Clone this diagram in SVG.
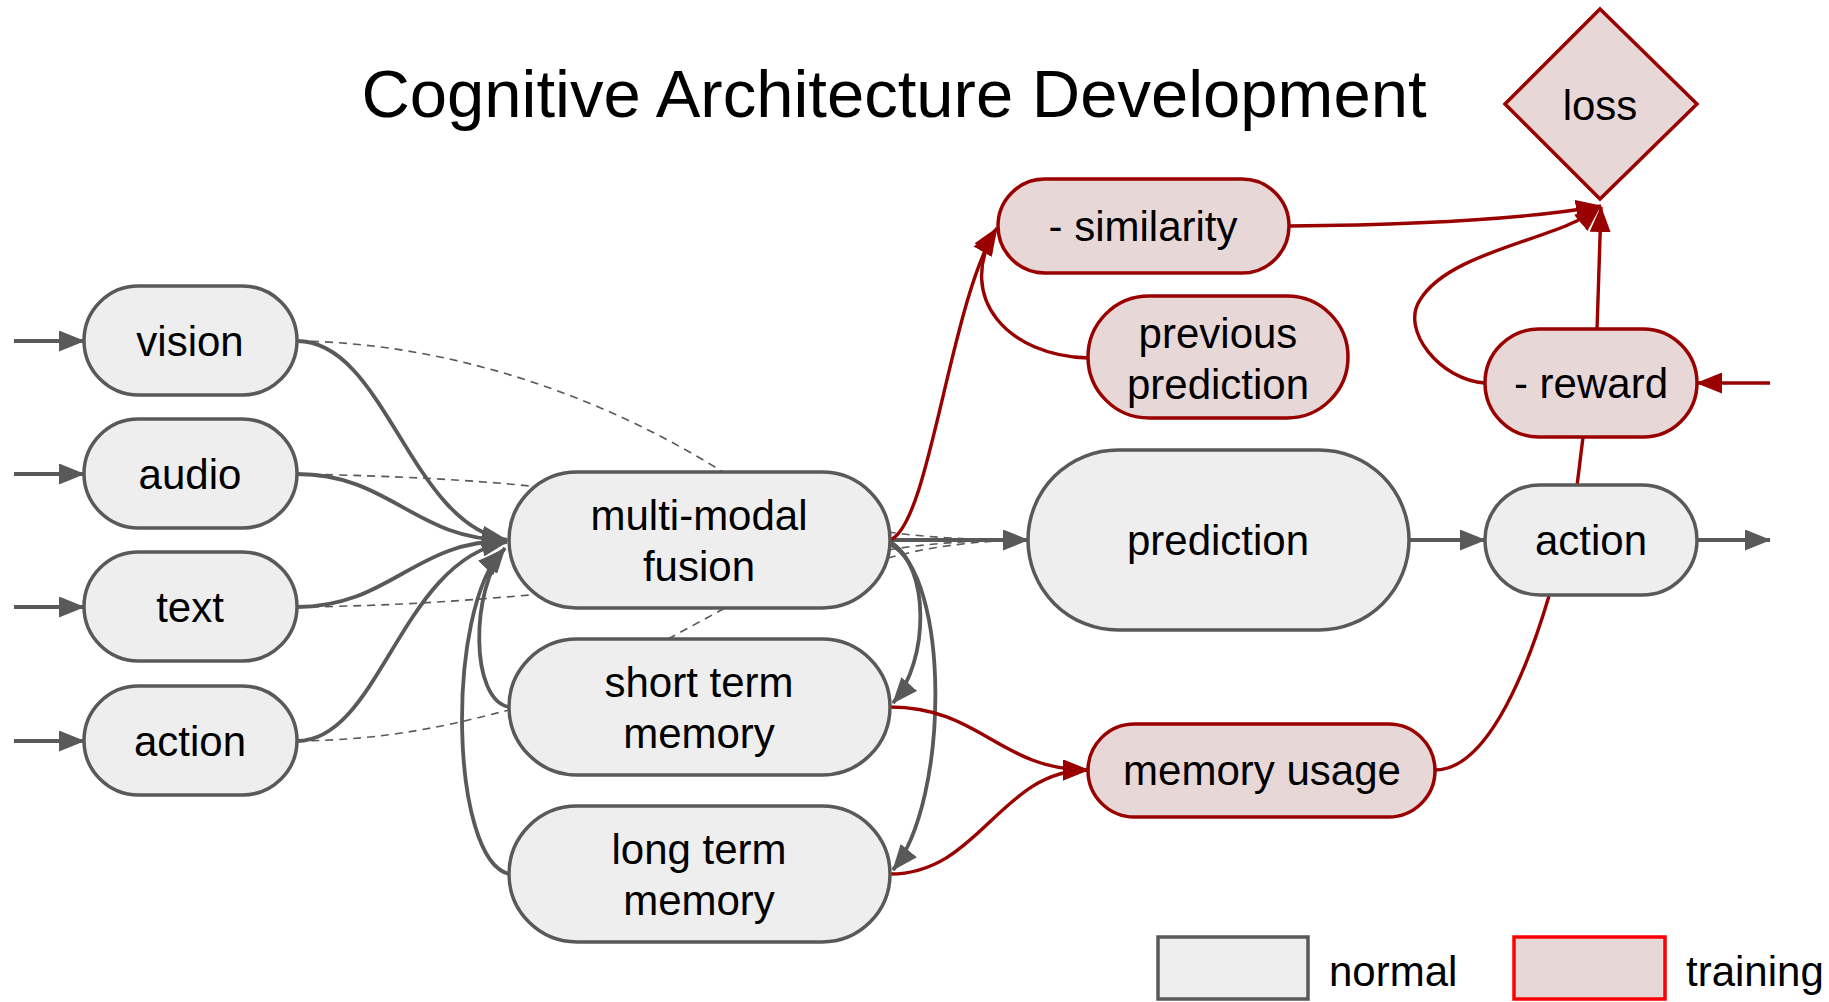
<svg xmlns="http://www.w3.org/2000/svg" width="1829" height="1002" viewBox="0 0 1829 1002">
<style>
text{font-family:"Liberation Sans",Arial,sans-serif;font-size:42px;fill:#000;text-anchor:middle}
.n{fill:#eeeeee;stroke:#595959;stroke-width:3.5}
.t{fill:#e8d7d7;stroke:#990000;stroke-width:3.5}
.g{fill:none;stroke:#595959;stroke-width:3.8}
.gd{fill:none;stroke:#595959;stroke-width:1.6;stroke-dasharray:8 6}
.r{fill:none;stroke:#990000;stroke-width:3.4}
</style>
<defs>
<marker id="ag" markerUnits="userSpaceOnUse" markerWidth="26" markerHeight="21" viewBox="0 0 26 21" refX="25" refY="10.5" orient="auto"><path d="M0,0 L26,10.5 L0,21 z" fill="#595959"/></marker>
<marker id="ar" markerUnits="userSpaceOnUse" markerWidth="26" markerHeight="21" viewBox="0 0 26 21" refX="25" refY="10.5" orient="auto"><path d="M0,0 L26,10.5 L0,21 z" fill="#990000"/></marker>
</defs>
<rect width="1829" height="1002" fill="#fff"/>
<text x="894" y="117" style="font-size:67px">Cognitive Architecture Development</text>

<g id="connectors">
<path class="g" d="M14,341 L84,341" marker-end="url(#ag)"/>
<path class="g" d="M14,474 L84,474" marker-end="url(#ag)"/>
<path class="g" d="M14,607 L84,607" marker-end="url(#ag)"/>
<path class="g" d="M14,741 L84,741" marker-end="url(#ag)"/>
<path class="gd" d="M297,341 C450,343 600,395 723,472"/>
<path class="gd" d="M297,474 C400,476 470,480 530,486"/>
<path class="gd" d="M297,607 C400,606 470,600 530,595"/>
<path class="gd" d="M297,741 C390,740 450,725 509,710"/>
<path class="gd" d="M668,639 L725,608"/>
<path class="gd" d="M888,532 C930,538 980,540 1020,540"/>
<path class="gd" d="M888,550 C930,543 980,540 1020,540"/>
<path class="gd" d="M888,558 C930,546 980,541 1020,540"/>
<path class="g" d="M297,341 C385,341 410,525 507,540" marker-end="url(#ag)"/>
<path class="g" d="M297,474 C390,474 415,540 507,540" marker-end="url(#ag)"/>
<path class="g" d="M297,607 C390,607 415,540 507,541" marker-end="url(#ag)"/>
<path class="g" d="M297,741 C380,741 400,560 507,542" marker-end="url(#ag)"/>
<path class="g" d="M509,707 C470,700 470,590 505,548" marker-end="url(#ag)"/>
<path class="g" d="M509,874 C450,860 445,610 503,550" marker-end="url(#ag)"/>
<path class="g" d="M890,540 L1028,540" marker-end="url(#ag)"/>
<path class="g" d="M890,542 C930,565 930,660 893,703" marker-end="url(#ag)"/>
<path class="g" d="M890,544 C950,575 950,800 893,870" marker-end="url(#ag)"/>
<path class="g" d="M1409,540 L1485,540" marker-end="url(#ag)"/>
<path class="g" d="M1697,540 L1770,540" marker-end="url(#ag)"/>
<path class="r" d="M890,540 C930,525 950,300 997,228" marker-end="url(#ar)"/>
<path class="r" d="M1088,358 C1010,356 955,300 995,230" marker-end="url(#ar)"/>
<path class="r" d="M1289,226 C1410,225 1520,220 1601,206" marker-end="url(#ar)"/>
<path class="r" d="M1485,383 C1440,380 1400,330 1420,300 C1450,250 1560,240 1600,207" marker-end="url(#ar)"/>
<path class="r" d="M1597,330 L1601,207" marker-end="url(#ar)"/>
<path class="r" d="M1577,486 L1583,437"/>
<path class="r" d="M1435,770 C1490,770 1530,660 1549,596"/>
<path class="r" d="M890,707 C980,707 1000,770 1088,770" marker-end="url(#ar)"/>
<path class="r" d="M890,874 C980,874 1000,770 1088,770" marker-end="url(#ar)"/>
<path class="r" d="M1770,383 L1697,383" marker-end="url(#ar)"/>
</g>

<g id="vision"><rect class="n" x="84" y="286" width="213" height="109" rx="54.5"/><text x="190" y="356">vision</text></g>
<g id="audio"><rect class="n" x="84" y="419" width="213" height="109" rx="54.5"/><text x="190" y="489">audio</text></g>
<g id="text"><rect class="n" x="84" y="552" width="213" height="109" rx="54.5"/><text x="190" y="622">text</text></g>
<g id="action-in"><rect class="n" x="84" y="686" width="213" height="109" rx="54.5"/><text x="190" y="756">action</text></g>

<g id="fusion"><rect class="n" x="509" y="472" width="381" height="136" rx="68"/><text x="699" y="530">multi-modal</text><text x="699" y="581">fusion</text></g>
<g id="stm"><rect class="n" x="509" y="639" width="381" height="136" rx="68"/><text x="699" y="697">short term</text><text x="699" y="748">memory</text></g>
<g id="ltm"><rect class="n" x="509" y="806" width="381" height="136" rx="68"/><text x="699" y="864">long term</text><text x="699" y="915">memory</text></g>

<g id="prediction"><rect class="n" x="1028" y="450" width="381" height="180" rx="90"/><text x="1218" y="555">prediction</text></g>
<g id="action-out"><rect class="n" x="1485" y="485" width="212" height="110" rx="55"/><text x="1591" y="555">action</text></g>

<g id="similarity"><rect class="t" x="998" y="179" width="291" height="94" rx="47"/><text x="1143" y="241">- similarity</text></g>
<g id="prev-pred"><rect class="t" x="1088" y="296" width="260" height="122" rx="61"/><text x="1218" y="348">previous</text><text x="1218" y="399">prediction</text></g>
<g id="reward"><rect class="t" x="1485" y="329" width="212" height="108" rx="54"/><text x="1591" y="398">- reward</text></g>
<g id="loss"><polygon class="t" points="1600,9 1697,104 1600,199 1505,104"/><text x="1600" y="120">loss</text></g>
<g id="memory-usage"><rect class="t" x="1088" y="724" width="347" height="93" rx="46.5"/><text x="1262" y="785">memory usage</text></g>

<g id="legend">
<rect x="1158" y="937" width="150" height="62" fill="#eeeeee" stroke="#595959" stroke-width="3.5"/>
<text x="1329" y="986" style="text-anchor:start">normal</text>
<rect x="1514" y="937" width="151" height="62" fill="#e8d7d7" stroke="#ff0000" stroke-width="3.5"/>
<text x="1686" y="986" style="text-anchor:start">training</text>
</g>
</svg>
